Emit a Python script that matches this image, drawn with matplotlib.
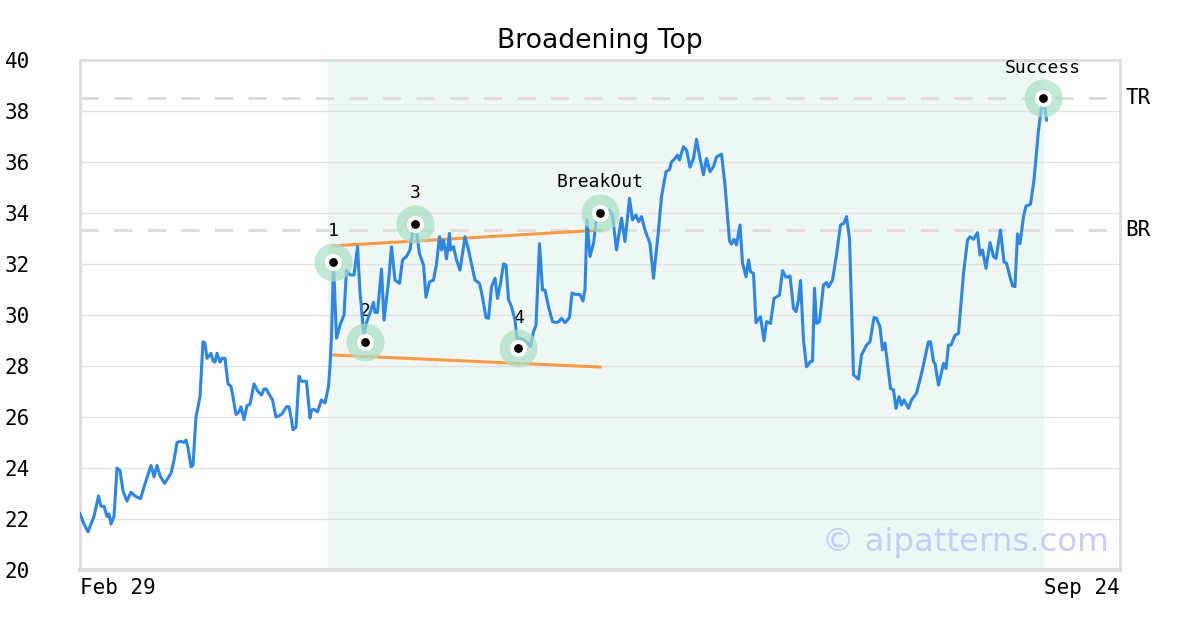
import matplotlib
matplotlib.use('Agg')
from matplotlib import pyplot as plt

# days since Feb 29 and closing price
days = [0.0, 0.8, 1.6, 2.2, 2.8, 3.7, 4.2, 4.8, 5.4, 5.8, 6.2, 6.8, 7.4, 8.0, 8.6, 9.4, 10.2, 11.0, 12.1, 13.2,
        14.2, 14.8, 15.4, 16.0, 16.9, 17.6, 18.2, 18.8, 19.4, 20.2, 20.8, 21.2, 21.6, 22.2, 22.6, 23.2, 24.0, 24.6,
        25.0, 25.4, 26.2, 26.6, 27.0, 27.4, 28.0, 28.4, 29.0, 29.6, 30.2, 30.6, 31.2, 31.8, 32.2, 32.8, 33.4, 34.0,
        34.8, 35.6, 36.3, 36.8, 37.2, 37.8, 38.5, 39.2, 39.8, 40.3, 41.3, 41.8, 42.2, 42.6, 43.2, 43.8, 44.3, 44.8,
        45.3, 45.6, 46.0, 46.3, 46.8, 47.5, 48.3, 49.0, 49.7, 50.0, 50.3, 50.7, 51.3, 52.0, 52.8, 53.3, 54.0, 54.8,
        55.5, 56.0, 56.8, 57.3, 58.0, 58.7, 59.0, 59.5, 60.3, 60.8, 61.7, 62.3, 63.0, 63.9, 64.5, 65.3, 66.0, 66.7,
        67.3, 67.9, 68.7, 69.2, 69.9, 70.7, 71.3, 71.9, 72.3, 72.7, 73.3, 73.9, 74.1, 74.7, 75.3, 76.0, 77.0, 77.7,
        78.3, 79.0, 79.9, 80.5, 81.2, 81.7, 82.3, 83.0, 83.5, 84.1, 84.7, 85.2, 85.7, 86.3, 87.0, 87.5, 88.0, 89.0,
        89.6, 90.1, 90.7, 91.2, 91.9, 92.5, 93.0, 93.7, 94.5, 95.3, 95.8, 96.3, 97.0, 97.9, 98.4, 99.2, 100.0, 100.6,
        101.0, 101.4, 102.0, 102.7, 103.2, 104.0, 105.0, 105.9, 106.5, 107.3, 108.3, 109.0, 109.9, 110.5, 111.2,
        111.7, 112.3, 113.0, 114.0, 114.7, 115.7, 116.3, 117.2, 117.9, 118.3, 119.0, 119.5, 119.9, 120.7, 121.3,
        122.0, 122.7, 123.3, 124.0, 124.7, 125.3, 126.0, 126.7, 127.3, 128.3, 129.0, 129.9, 130.3, 130.8, 131.3,
        132.0, 132.5, 133.2, 133.7, 134.1, 134.7, 135.2, 136.1, 136.8, 137.3, 138.1, 138.8, 139.9, 140.5, 141.2,
        142.0, 142.7, 143.2, 143.7, 144.1, 144.7, 145.3, 146.1, 146.5, 146.9, 147.3, 147.9, 148.7, 149.3, 149.7,
        150.5, 151.3, 152.1, 152.8, 153.3, 153.9, 154.7, 155.7, 156.3, 157.3, 158.0, 158.8, 159.3, 160.0, 160.5,
        161.0, 162.1, 162.7, 163.2, 163.8, 164.3, 164.8, 165.7, 166.3, 167.3, 168.3, 169.7, 170.1, 170.7, 171.0,
        171.7, 172.7, 173.2, 173.7, 174.2, 175.0, 175.7, 176.7, 177.5, 178.0, 178.7, 179.5, 180.0, 180.5, 181.2,
        182.0, 182.7, 183.2, 184.1, 184.8, 185.3, 186.0, 186.5, 187.0, 187.5, 188.0, 188.7, 189.2, 190.1, 190.8,
        191.1, 191.7, 192.3, 192.6, 193.0, 193.3]
prices = [22.2, 21.8, 21.5, 21.8, 22.1, 22.9, 22.5, 22.5, 22.1, 22.2, 21.8, 22.1, 24.0, 23.9, 23.1, 22.7, 23.05, 22.9,
          22.8, 23.5, 24.1, 23.65, 24.1, 23.7, 23.4, 23.6, 23.8, 24.3, 25.0, 25.05, 25.0, 25.1, 24.8, 24.05, 24.1,
          26.0, 26.8, 28.95, 28.9, 28.3, 28.5, 28.2, 28.15, 28.5, 28.15, 28.3, 28.3, 27.3, 27.2, 26.8, 26.1, 26.2,
          26.4, 25.9, 26.45, 26.5, 27.3, 27.0, 26.86, 27.1, 27.1, 26.9, 26.67, 26.0, 26.05, 26.1, 26.4, 26.4, 26.0,
          25.5, 25.6, 27.6, 27.4, 27.4, 27.4, 26.8, 25.96, 26.27, 26.3, 26.2, 26.67, 26.55, 27.2, 28.0, 29.15, 32.03,
          29.09, 29.6, 30.0, 31.76, 31.57, 31.57, 32.68, 30.9, 29.15, 29.7, 30.08, 30.5, 30.1, 30.1, 31.8, 29.8,
          31.3, 32.68, 31.37, 31.24, 32.16, 32.3, 32.55, 33.5, 33.27, 32.4, 31.96, 30.7, 31.3, 31.37, 32.0, 33.07,
          32.55, 32.94, 32.2, 33.2, 32.55, 32.68, 32.16, 31.76, 33.07, 32.55, 32.0, 31.37, 31.24, 30.7, 29.9, 29.87,
          31.1, 31.44, 30.65, 31.24, 32.0, 31.96, 30.6, 30.33, 29.8, 28.9, 29.09, 29.0, 28.9, 28.76, 29.35, 29.6,
          32.8, 30.98, 30.98, 30.33, 29.74, 29.7, 29.75, 29.87, 29.7, 29.9, 30.86, 30.8, 30.8, 30.55, 31.0, 33.73,
          32.3, 32.8, 33.66, 34.0, 33.8, 34.12, 33.9, 32.55, 33.8, 32.88, 34.58, 33.73, 33.92, 33.66, 33.86, 33.33,
          32.8, 31.44, 33.33, 34.64, 35.62, 35.7, 36.0, 36.14, 36.27, 36.08, 36.6, 36.47, 35.8, 36.14, 36.89, 36.14,
          35.5, 36.14, 35.62, 35.82, 36.2, 36.31, 35.1, 32.9, 32.78, 32.97, 32.75, 33.53, 32.03, 31.5, 32.16, 31.7,
          31.63, 29.7, 29.93, 28.99, 29.74, 29.67, 30.65, 30.78, 31.74, 31.48, 31.53, 30.26, 30.13, 30.59, 31.35,
          29.02, 27.97, 28.17, 28.2, 31.05, 29.67, 29.74, 31.18, 31.27, 31.1, 31.37, 32.35, 33.53, 33.6, 33.86, 33.0,
          27.65, 27.48, 28.43, 28.82, 28.95, 29.9, 29.87, 29.54, 28.63, 28.9, 27.12, 27.06, 26.34, 26.8, 26.47,
          26.67, 26.34, 26.67, 26.93, 27.7, 28.95, 28.95, 28.17, 28.1, 27.25, 28.1, 27.9, 28.82, 28.82, 29.2, 29.28,
          31.63, 32.94, 33.07, 32.97, 33.23, 32.35, 32.55, 31.83, 32.84, 32.29, 32.22, 33.33, 32.08, 32.03, 31.5,
          31.14, 31.11, 33.18, 32.8, 33.86, 34.27, 34.34, 35.3, 35.95, 37.25, 38.17, 38.5, 38.1, 37.65]

# pattern pivots
pivot_days = [50.6, 57.0, 67.0, 87.6, 104.0, 192.6]
pivot_vals = [32.08, 28.94, 33.57, 28.7, 34.0, 38.5]
pivot_labels = ['1', '2', '3', '4', 'BreakOut', 'Success']

# trend lines (start day, end day) and (start value, end value)
trend_days = [50.6, 104.0]
upper_vals = [32.71, 33.33]
lower_vals = [28.43, 27.96]

levels = {'TR': 38.5, 'BR': 33.33}
pattern_span = [49.6, 192.6]
x_end = 208
xlabels = ['Feb 29', 'Sep 24']
yticks = list(range(20, 41, 2))

mono = 'DejaVu Sans Mono'
fig = plt.figure(figsize=(12, 6.3), dpi=100)
ax = fig.add_axes([80 / 1200, 60 / 630, 1040 / 1200, 510 / 630])

ax.axvspan(pattern_span[0], pattern_span[1], color='#eef7f3', zorder=0)
ax.yaxis.grid(True, color='#e2e2e2', linewidth=1, zorder=1)
ax.set_axisbelow(True)

for name, val in levels.items():
    ax.axhline(val, color='#dddddd', linewidth=2.2, linestyle=(0, (6, 5)), zorder=2)
    ax.text(x_end + 1, val, name, fontsize=15, family=mono, va='center', ha='left')

ax.plot(trend_days, upper_vals, color='#fb9a45', linewidth=2.2, zorder=3)
ax.plot(trend_days, lower_vals, color='#fb9a45', linewidth=2.2, zorder=3)

ax.plot(days, prices, color='#2b86e8', linewidth=2.2, zorder=4)

ax.scatter(pivot_days, pivot_vals, s=750, color='#a8e0c5', alpha=0.7, linewidths=0, zorder=5)
ax.scatter(pivot_days, pivot_vals, s=150, color='white', linewidths=0, zorder=6)
ax.scatter(pivot_days, pivot_vals, s=40, color='black', linewidths=0, zorder=7)
for d, v, lab in zip(pivot_days, pivot_vals, pivot_labels):
    ax.annotate(lab, (d, v), xytext=(0, 22), textcoords='offset points', ha='center', va='center',
                fontsize=13, family=mono)

ax.text(0.989, 0.053, '\u00a9 aipatterns.com', transform=ax.transAxes, ha='right', va='center',
        fontsize=23.3, color='#cccafa', zorder=8)

ax.set_xlim(0, x_end)
ax.set_ylim(20, 40)
ax.set_yticks(yticks)
ax.set_yticklabels([str(t) for t in yticks], family=mono, fontsize=15)
ax.set_xticks([0, x_end])
ax.set_xticklabels(xlabels, family=mono, fontsize=15)
ax.get_xticklabels()[0].set_ha('left')
ax.get_xticklabels()[1].set_ha('right')
ax.tick_params(axis='y', length=0, pad=36)
ax.tick_params(axis='x', length=0, pad=6)

for s in ax.spines.values():
    s.set_color('#dddddd')
    s.set_linewidth(2)
ax.spines['bottom'].set_linewidth(3)

ax.set_title('Broadening Top', fontsize=19.2, pad=9)

fig.savefig('out.png', dpi=100)
